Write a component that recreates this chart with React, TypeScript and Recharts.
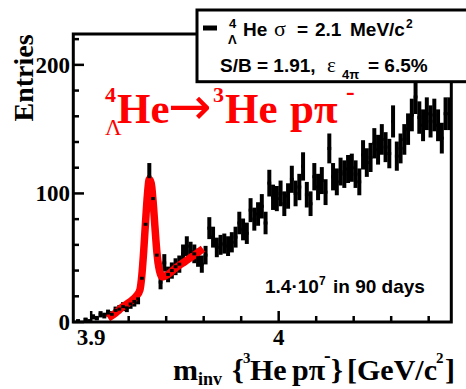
import { ComposedChart, ErrorBar, Line, Scatter, XAxis, YAxis } from "recharts";

// invariant-mass bins (GeV/c^2), 2 MeV wide
const binMass = [
  3.893, 3.895, 3.897, 3.899, 3.901, 3.903, 3.905, 3.907, 3.909, 3.911,
  3.913, 3.915, 3.917, 3.919, 3.921, 3.923, 3.925, 3.927, 3.929, 3.931,
  3.933, 3.935, 3.937, 3.939, 3.941, 3.943, 3.945, 3.947, 3.949, 3.951,
  3.953, 3.955, 3.957, 3.959, 3.961, 3.963, 3.965, 3.967, 3.969, 3.971,
  3.973, 3.975, 3.977, 3.979, 3.981, 3.983, 3.985, 3.987, 3.989, 3.991,
  3.993, 3.995, 3.997, 3.999, 4.001, 4.003, 4.005, 4.007, 4.009, 4.011,
  4.013, 4.015, 4.017, 4.019, 4.021, 4.023, 4.025, 4.027, 4.029, 4.031,
  4.033, 4.035, 4.037, 4.039, 4.041, 4.043, 4.045, 4.047, 4.049, 4.051,
  4.053, 4.055, 4.057, 4.059, 4.061, 4.063, 4.065, 4.067, 4.069, 4.071,
  4.073, 4.075, 4.077, 4.079, 4.081, 4.083, 4.085, 4.087, 4.089, 4.091,
];
const binCounts = [
  1, 0, 2, 1, 4, 3, 6, 5, 7, 6,
  9, 10, 12, 11, 14, 16, 18, 34, 76, 113,
  96, 52, 31, 46, 37, 40, 43, 45, 53, 59,
  55, 53, 50, 45, 52, 73, 66, 58, 60, 61,
  59, 62, 66, 77, 72, 69, 87, 80, 84, 90,
  77, 108, 97, 96, 100, 92, 98, 111, 100, 105,
  121, 99, 92, 113, 105, 110, 101, 135, 113, 109,
  117, 115, 119, 120, 115, 109, 130, 124, 128, 139,
  134, 142, 136, 131, 156, 129, 135, 142, 150, 161,
  175, 159, 153, 162, 156, 161, 153, 143, 162, 162,
];

// fit curve (gauss + linear background)
const fitMass = [
  3.909, 3.913, 3.917, 3.921, 3.924, 3.926, 3.927, 3.928, 3.929, 3.93,
  3.931, 3.932, 3.933, 3.934, 3.935, 3.936, 3.937, 3.938, 3.941, 3.945,
  3.95, 3.955, 3.9596,
];
const fitValues = [
  3, 7, 12, 16, 20, 25, 36, 55, 78, 99,
  111, 108, 94, 74, 55, 43, 37, 35, 37, 42,
  47, 52, 57,
];

const xTicks = [3.9, 3.92, 3.94, 3.96, 3.98, 4.0, 4.02, 4.04, 4.06, 4.08];
const xMajor = [3.9, 4.0];
const yTicks = [0, 20, 40, 60, 80, 100, 120, 140, 160, 180, 200, 220];

const bins = binMass.map((m, i) => ({
  m,
  y: binCounts[i],
  err: Math.sqrt(binCounts[i]), // poisson error
}));
const fit = fitMass.map((m, i) => ({ m, y: fitValues[i] }));

const SERIF = "'Liberation Serif', 'Times New Roman', serif";
const SANS = "'Liberation Sans', Arial, sans-serif";

function XTick(props: any) {
  const { x, y, payload } = props;
  const v = payload.value;
  const major = xMajor.some((t) => Math.abs(t - v) < 1e-6);
  return (
    <g>
      <line x1={x} x2={x} y1={y} y2={y - (major ? 11 : 6)} stroke="#000" strokeWidth={2.5} />
      {major && (
        <text x={x} y={y + 23} textAnchor="middle" fontFamily={SERIF} fontWeight="bold" fontSize={23} fill="#000">
          {String(v)}
        </text>
      )}
    </g>
  );
}

function YTick(props: any) {
  const { x, y, payload } = props;
  const major = payload.value % 100 === 0;
  return (
    <g>
      <line x1={x} x2={x + (major ? 11 : 6)} y1={y} y2={y} stroke="#000" strokeWidth={2.5} />
      {major && (
        <text x={x - 3} y={y + 8} textAnchor="end" fontFamily={SERIF} fontWeight="bold" fontSize={23} fill="#000">
          {payload.value}
        </text>
      )}
    </g>
  );
}

function BinMark(props: any) {
  const { cx, cy, payload } = props;
  if (!payload || payload.y === 0) return <g />;
  return <rect x={cx - 1.9} y={cy - 1.5} width={3.8} height={3} fill="#000" />;
}

export default function App() {
  return (
    <div style={{ position: "absolute", left: 0, top: 0, width: 466, height: 389, background: "#fff" }}>
      <ComposedChart width={466} height={389} margin={{ top: 34, right: 15, bottom: 57, left: 63 }}>
        <XAxis
          type="number"
          dataKey="m"
          domain={[3.8903, 4.0919]}
          allowDataOverflow
          ticks={xTicks}
          interval={0}
          height={10}
          tickSize={0}
          tickMargin={0}
          axisLine={false}
          tickLine={false}
          tick={(p: any) => <XTick {...p} />}
        />
        <YAxis
          type="number"
          dataKey="y"
          domain={[0, 224]}
          allowDataOverflow
          ticks={yTicks}
          interval={0}
          width={10}
          tickSize={0}
          tickMargin={0}
          axisLine={false}
          tickLine={false}
          tick={(p: any) => <YTick {...p} />}
        />
        <Scatter data={bins} dataKey="y" fill="#000" shape={<BinMark />} isAnimationActive={false}>
          <ErrorBar dataKey="err" direction="y" width={0} stroke="#000" strokeWidth={4} isAnimationActive={false} />
        </Scatter>
        <Line
          data={fit}
          dataKey="y"
          type="monotone"
          stroke="#ff0000"
          strokeWidth={7.5}
          dot={false}
          activeDot={false}
          isAnimationActive={false}
        />
      </ComposedChart>

      <svg
        width={466}
        height={389}
        style={{ position: "absolute", left: 0, top: 0, pointerEvents: "none" }}
      >
        {/* frame */}
        <rect x={73.3} y={34} width={378} height={288} fill="none" stroke="#000" strokeWidth={3} />

        {/* y title */}
        <text
          transform="translate(33 78) rotate(-90)"
          textAnchor="middle"
          fontFamily={SERIF}
          fontWeight="bold"
          fontSize={28}
          fill="#000"
        >
          Entries
        </text>

        {/* x title */}
        <text fontFamily={SERIF} fontWeight="bold" fill="#000" fontSize={30}>
          <tspan x={173} y={380}>m</tspan>
          <tspan x={198} y={385} fontSize={18}>inv</tspan>
          <tspan x={232} y={380}>{"{"}</tspan>
          <tspan x={243} y={363} fontSize={15}>3</tspan>
          <tspan x={250} y={380}>He</tspan>
          <tspan x={292} y={380}>pπ</tspan>
          <tspan x={324} y={362} fontSize={20}>-</tspan>
          <tspan x={331} y={380}>{"}"}</tspan>
          <tspan x={347} y={380}>[GeV/c</tspan>
          <tspan x={436} y={363} fontSize={15}>2</tspan>
          <tspan x={445} y={380}>]</tspan>
        </text>

        {/* reaction label */}
        <g fontFamily={SERIF} fill="#ff0000">
          <text x={105} y={102} fontSize={22} fontWeight="bold">4</text>
          <text x={105} y={135} fontSize={23}>Λ</text>
          <text x={117} y={123} fontSize={43} fontWeight="bold">He</text>
          <text x={168} y={124} fontSize={52} fontFamily="'DejaVu Sans', sans-serif">→</text>
          <text x={213} y={102} fontSize={22} fontWeight="bold">3</text>
          <text x={225} y={123} fontSize={43} fontWeight="bold">He</text>
          <text x={290} y={123} fontSize={43} fontWeight="bold">pπ</text>
          <text x={346} y={100} fontSize={26} fontWeight="bold">-</text>
        </g>

        {/* statistics note */}
        <g fontFamily={SANS} fontWeight="bold" fill="#000">
          <text x={265} y={293} fontSize={19}>1.4·10</text>
          <text x={319} y={285} fontSize={12}>7</text>
          <text x={333} y={293} fontSize={19}>in 90 days</text>
        </g>

        {/* legend box */}
        <rect x={197} y={10} width={280} height={71.7} fill="#fff" stroke="#000" strokeWidth={3} />
        <line x1={203} x2={217} y1={28} y2={28} stroke="#000" strokeWidth={5} />
        <g fontFamily={SANS} fontWeight="bold" fill="#000">
          <text x={229} y={28} fontSize={13}>4</text>
          <text x={228} y={44} fontSize={13}>Λ</text>
          <text x={243} y={36} fontSize={19}>He</text>
          <text x={274} y={36} fontSize={22} fontFamily={SERIF} fontWeight="normal">σ</text>
          <text x={297} y={36} fontSize={19}>=</text>
          <text x={315} y={36} fontSize={19}>2.1</text>
          <text x={350} y={36} fontSize={19}>MeV/c</text>
          <text x={406} y={28} fontSize={12}>2</text>
          <text x={220} y={72} fontSize={19}>S/B = 1.91,</text>
          <text x={327} y={72} fontSize={21} fontFamily={SERIF} fontWeight="normal">ε</text>
          <text x={342} y={79} fontSize={13}>4π</text>
          <text x={368} y={72} fontSize={19}>= 6.5%</text>
        </g>
      </svg>
    </div>
  );
}
